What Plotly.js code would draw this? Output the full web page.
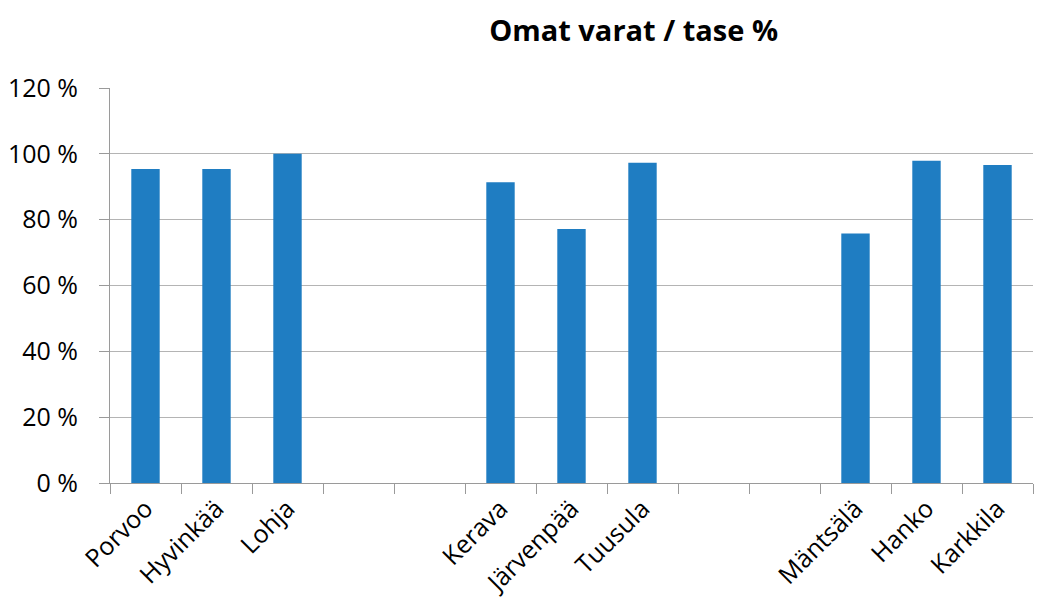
<!DOCTYPE html>
<html>
<head>
<meta charset="utf-8">
<script src="https://cdn.plot.ly/plotly-3.0.1.min.js"></script>
<style>
  html, body { margin: 0; padding: 0; background: #fff; }
  #chart { width: 1037px; height: 611px; }
</style>
</head>
<body>
<div id="chart"></div>
<script>
// municipalities, empty slots keep the group gaps
const categories = [
  'Porvoo', 'Hyvinkää', 'Lohja', '\u200b', '\u200b\u200b',
  'Kerava', 'Järvenpää', 'Tuusula', '\u200b\u200b\u200b', '\u200b\u200b\u200b\u200b',
  'Mäntsälä', 'Hanko', 'Karkkila'
];
const equityRatio = [95.4, 95.4, 100, null, null, 91.4, 77.2, 97.3, null, null, 75.8, 97.9, 96.6];
const yTicks = [0, 20, 40, 60, 80, 100, 120];
const yTickText = yTicks.map((v) => v + ' %');

const barTrace = {
  type: 'bar',
  x: categories,
  y: equityRatio,
  marker: { color: '#1f7dc2' },
  hoverinfo: 'x+y',
};

const layout = {
  width: 1037,
  height: 611,
  margin: { l: 110, r: 4, t: 88, b: 128 },
  paper_bgcolor: '#fff',
  plot_bgcolor: '#fff',
  font: { family: 'Open Sans, sans-serif', size: 25, color: '#000' },
  title: {
    text: '<b>Omat varat / tase %</b>',
    font: { size: 29, color: '#000' },
    x: 0.611,
    xanchor: 'center',
    y: 0.95,
    yanchor: 'middle',
  },
  bargap: 0.6,
  showlegend: false,
  xaxis: {
    type: 'category',
    categoryorder: 'array',
    categoryarray: categories,
    tickson: 'boundaries',
    ticks: 'outside',
    ticklen: 10,
    tickcolor: '#9a9a9a',
    tickangle: -45,
    showline: true,
    linecolor: '#9a9a9a',
    showgrid: false,
    zeroline: false,
  },
  yaxis: {
    range: [0, 120],
    tickmode: 'array',
    tickvals: yTicks,
    ticktext: yTickText,
    ticks: 'outside',
    ticklen: 10,
    tickcolor: '#9a9a9a',
    ticklabelstandoff: 16,
    showline: true,
    linecolor: '#9a9a9a',
    showgrid: true,
    gridcolor: '#b4b4b4',
    zeroline: false,
  },
};

Plotly.newPlot(document.getElementById('chart'), [barTrace], layout, { displayModeBar: false, staticPlot: true });
</script>
</body>
</html>
